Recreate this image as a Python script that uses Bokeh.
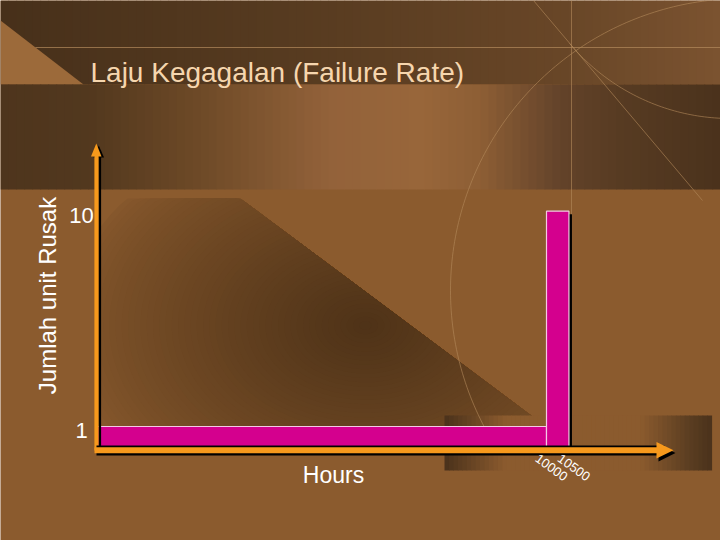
import numpy as np
from bokeh.plotting import figure
from bokeh.models import Range1d
from bokeh.core.properties import value
from bokeh.embed import file_html
from bokeh.resources import INLINE

# ---------------- data ----------------
hours_start = [0, 10000]
hours_end = [10000, 10500]
units_failed = [1, 10]
y_ticks = [1, 10]
y_tick_labels = ["1", "10"]
x_ticks = [10000, 10500]
x_tick_labels = ["10000", "10500"]
title_text = "Laju Kegagalan (Failure Rate)"
x_label = "Hours"
y_label = "Jumlah unit Rusak"

# ---------------- layout (screen pixels) ----------------
W, H = 720, 540
X0_PX, X1_PX = 97.0, 546.0          # screen x of 0 h and 10000 h
Y1_PX, Y10_PX = 426.0, 210.7         # screen y of 1 and 10 units
hpp = 10000.0 / (X1_PX - X0_PX)
ppu = (Y1_PX - Y10_PX) / 9.0
Y0_PX = Y1_PX + ppu

xr = Range1d(-X0_PX * hpp, (W - X0_PX) * hpp)
yr = Range1d((Y0_PX - H) / ppu, Y0_PX / ppu)

BASE = "#8b5b2e"
FONT = value("Liberation Sans")

p = figure(width=W, height=H, output_backend="svg", toolbar_location=None,
           x_range=xr, y_range=yr, x_axis_location=None, y_axis_location=None,
           min_border=0, outline_line_color=None,
           background_fill_color=BASE, border_fill_color=BASE)
p.grid.visible = False
p.extra_x_ranges = {"px": Range1d(0, W),
                    "sx": Range1d(xr.start - 3 * hpp, xr.end - 3 * hpp)}
p.extra_y_ranges = {"py": Range1d(H, 0),
                    "sy": Range1d(yr.start + 3 / ppu, yr.end + 3 / ppu)}


def hex2rgb(h):
    h = h.lstrip("#")
    return np.array([int(h[i:i + 2], 16) for i in (0, 2, 4)], dtype=float)


def rgb2hex(rgb):
    return "#%02x%02x%02x" % tuple(int(round(c)) for c in rgb)


def hgrad(x0, x1, y0, y1, stops, n=90):
    xs = np.linspace(x0, x1, n + 1)
    sx = [s[0] for s in stops]
    cols = np.array([hex2rgb(s[1]) for s in stops])
    mids = (xs[:-1] + xs[1:]) / 2
    colors = [rgb2hex([np.interp(m, sx, cols[:, k]) for k in range(3)]) for m in mids]
    p.quad(left=xs[:-1], right=xs[1:] + 0.6, top=[y0] * n, bottom=[y1] * n,
           fill_color=colors, line_color=None,
           x_range_name="px", y_range_name="py")


# ---------------- background decoration ----------------
# top band
hgrad(0, 720, 0, 84, [(0, "#47301a"), (300, "#573b20"), (560, "#684627"), (720, "#7b5330")])
# light triangle top-left
p.patch([0, 0, 83], [20, 84, 84], fill_color="#9c6a3a", line_color=None,
        x_range_name="px", y_range_name="py")
# middle band
hgrad(0, 720, 84, 189, [(0, "#4e351d"), (90, "#52381e"), (200, "#6e4a27"), (330, "#93623a"),
                        (420, "#98663a"), (480, "#8d5e35"), (560, "#63432a"), (620, "#573b22"),
                        (720, "#4a321c")])
# soft dark wedge under the diagonal (nested opaque clipped ellipses)
base_rgb = hex2rgb(BASE)
dk_rgb = hex2rgb("#2a1a0a")
slope = (428 - 198) / (548 - 240)
ang = np.linspace(0, 2 * np.pi, 140)
NL = 48
for k in range(NL):
    f = 1 - k / NL
    t = 0.06 + 0.56 * (k / (NL - 1)) ** 0.8
    ex = 365 + 300 * f * np.cos(ang)
    ey = 325 + 210 * f * np.sin(ang)
    ex = np.clip(ex, 97, 548)
    ey = np.clip(ey, np.maximum(198 + (ex - 240) * slope, 198), 446)
    p.patch(ex, ey, fill_color=rgb2hex(base_rgb * (1 - t) + dk_rgb * t), line_color=None,
            x_range_name="px", y_range_name="py")
# bottom-right band behind arrow
hgrad(444, 711, 415, 470, [(444, "#4a321b"), (505, "#8b5b2e"), (640, "#8b5b2e"),
                           (690, "#5a3d21"), (711, "#4a321b")], n=60)
# thin lines and arcs
LC = "#b48a5c"
p.line([35, 720], [47, 47], line_color=LC, line_alpha=0.7, line_width=1,
       x_range_name="px", y_range_name="py")
p.line([571, 571], [0, 215], line_color=LC, line_alpha=0.6, line_width=1,
       x_range_name="px", y_range_name="py")
p.line([533, 702], [0, 200], line_color=LC, line_alpha=0.6, line_width=1,
       x_range_name="px", y_range_name="py")
th = np.radians(np.linspace(150, 265, 120))
p.line(742 + 292 * np.cos(th), 290 + 292 * np.sin(th), line_color=LC, line_alpha=0.6,
       line_width=1, x_range_name="px", y_range_name="py")
th2 = np.radians(np.linspace(85, 140, 60))
p.line(730 + 210 * np.cos(th2), -92 + 210 * np.sin(th2), line_color=LC, line_alpha=0.6,
       line_width=1, x_range_name="px", y_range_name="py")

# ---------------- bars ----------------
zeros = [0] * len(units_failed)
p.quad(left=hours_start, right=hours_end, bottom=zeros, top=units_failed,
       fill_color="black", line_color=None, x_range_name="sx", y_range_name="sy")
p.quad(left=hours_start, right=hours_end, bottom=zeros, top=units_failed,
       fill_color="#d4008e", line_color="#f4c8e6", line_width=1.2)

# ---------------- axes arrows ----------------
ORANGE = "#f7991c"
# vertical
p.line([99.3, 99.3], [150, 452], line_color="black", line_width=2.6,
       x_range_name="px", y_range_name="py")
p.patch([93, 103.5, 98.3], [157, 157, 145], fill_color="black", line_color=None,
        x_range_name="px", y_range_name="py")
p.line([96.0, 96.0], [154, 450], line_color=ORANGE, line_width=4.2,
       x_range_name="px", y_range_name="py")
p.patch([90.5, 101, 95.8], [156, 156, 143], fill_color=ORANGE, line_color=None,
        x_range_name="px", y_range_name="py")
# horizontal
p.line([96, 664], [450, 450], line_color="black", line_width=10,
       x_range_name="px", y_range_name="py")
p.patch([658, 658, 675], [444, 461, 452.5], fill_color="black", line_color=None,
        x_range_name="px", y_range_name="py")
p.line([94, 662], [449.7, 449.7], line_color=ORANGE, line_width=6,
       x_range_name="px", y_range_name="py")
p.patch([656, 656, 673], [441.5, 458, 449.7], fill_color=ORANGE, line_color=None,
        x_range_name="px", y_range_name="py")

# ---------------- texts ----------------
p.text(x=[0] * len(y_ticks), y=y_ticks, text=y_tick_labels, x_offset=-16, y_offset=4,
       text_align="center", text_baseline="middle", text_color="white",
       text_font=FONT, text_font_size="22px")
p.text(x=x_ticks, y=[0] * len(x_ticks), text=x_tick_labels, x_offset=5, y_offset=17,
       angle=-0.62, text_align="center", text_baseline="middle", text_color="white",
       text_font=FONT, text_font_size="13px")
p.text(x=[90], y=[72], text=[title_text], text_align="left", text_baseline="alphabetic",
       text_color="#f6d6ae", text_font=FONT, text_font_size="28px",
       x_range_name="px", y_range_name="py")
p.text(x=[333], y=[474], text=[x_label], text_align="center", text_baseline="middle",
       text_color="white", text_font=FONT, text_font_size="23px",
       x_range_name="px", y_range_name="py")
p.text(x=[47], y=[295], text=[y_label], angle=np.pi / 2, text_align="center",
       text_baseline="middle", text_color="white", text_font=FONT, text_font_size="24px",
       x_range_name="px", y_range_name="py")

open("out.html", "w").write(file_html(p, INLINE, title="Laju Kegagalan"))
